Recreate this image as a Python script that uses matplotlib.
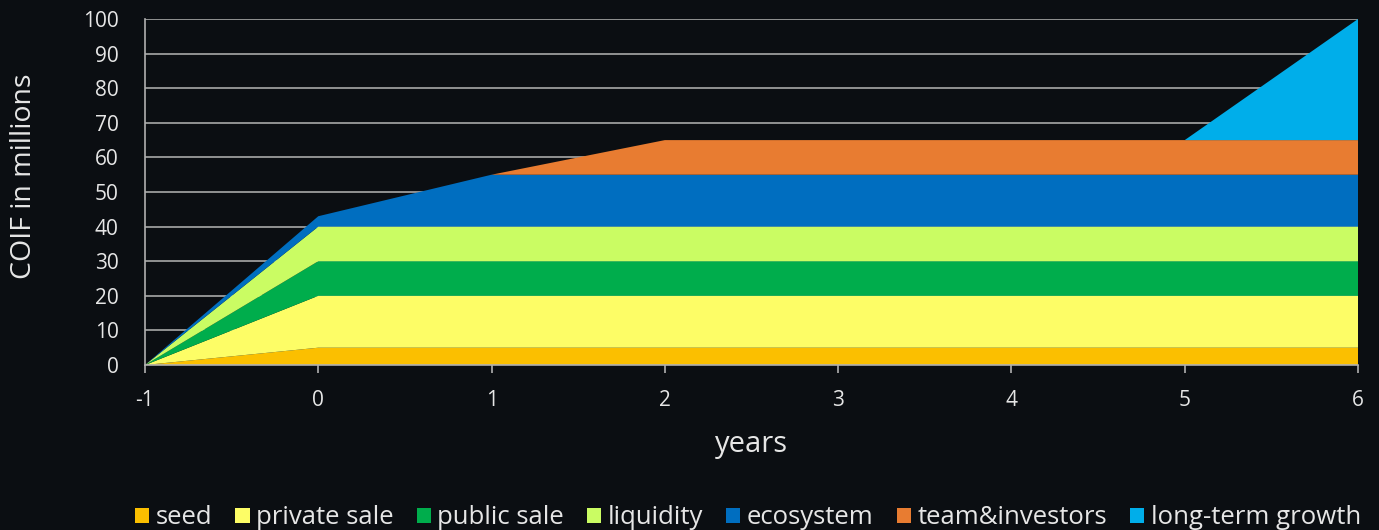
import matplotlib.pyplot as plt
from matplotlib.patches import Patch

years = [-1, 0, 1, 2, 3, 4, 5, 6]
seed = [0, 5, 5, 5, 5, 5, 5, 5]
private_sale = [0, 15, 15, 15, 15, 15, 15, 15]
public_sale = [0, 10, 10, 10, 10, 10, 10, 10]
liquidity = [0, 10, 10, 10, 10, 10, 10, 10]
ecosystem = [0, 3, 15, 15, 15, 15, 15, 15]
team_investors = [0, 0, 0, 10, 10, 10, 10, 10]
long_term_growth = [0, 0, 0, 0, 0, 0, 0, 35]

labels = ['seed', 'private sale', 'public sale', 'liquidity', 'ecosystem',
          'team&investors', 'long-term growth']
colors = ['#fbbf00', '#fdfd66', '#00ad4c', '#cafc63', '#006ec0', '#e87c31', '#00aeea']

bg = '#0b0e12'
fg = '#e6e6e6'
plt.rcParams['font.family'] = ['Open Sans', 'DejaVu Sans']
plt.rcParams['axes.unicode_minus'] = False

fig = plt.figure(figsize=(13.79, 5.30), dpi=100, facecolor=bg)
ax = fig.add_axes([145 / 1379, 1 - 365 / 530, (1358 - 145) / 1379, (365 - 19) / 530])
ax.set_facecolor(bg)

ax.stackplot(years, seed, private_sale, public_sale, liquidity, ecosystem,
             team_investors, long_term_growth, colors=colors, zorder=3,
             edgecolor='none', linewidth=0)

ax.set_xlim(-1, 6)
ax.set_ylim(0, 100)
ax.set_xticks(years)
ax.set_yticks(range(0, 101, 10))
ax.grid(axis='y', color='#a8a8a8', linewidth=1.2, zorder=0)
ax.set_axisbelow(True)

for s in ['top', 'right']:
    ax.spines[s].set_visible(False)
for s in ['left', 'bottom']:
    ax.spines[s].set_color('#b0b0b0')
    ax.spines[s].set_linewidth(1.2)
    ax.spines[s].set_zorder(4)

ax.tick_params(axis='x', colors='#b0b0b0', labelcolor=fg, labelsize=15,
               length=6, width=1.2, pad=12)
ax.tick_params(axis='y', length=0, labelcolor=fg, labelsize=15, pad=19)

ax.set_xlabel('years', color=fg, fontsize=21, labelpad=14)
ax.set_ylabel('COIF in millions', color=fg, fontsize=20.5)
ax.yaxis.set_label_coords(-107 / 1213, 0.545)

handles = [Patch(facecolor=c, label=l) for c, l in zip(colors, labels)]
fig.legend(handles=handles, loc='center', bbox_to_anchor=(748 / 1379, 1 - 518 / 530),
           ncol=7, frameon=False, fontsize=18.5, labelcolor=fg,
           handlelength=0.55, handleheight=0.55, handletextpad=0.25, columnspacing=0.9)

fig.savefig('out.png', dpi=100, facecolor=bg)
